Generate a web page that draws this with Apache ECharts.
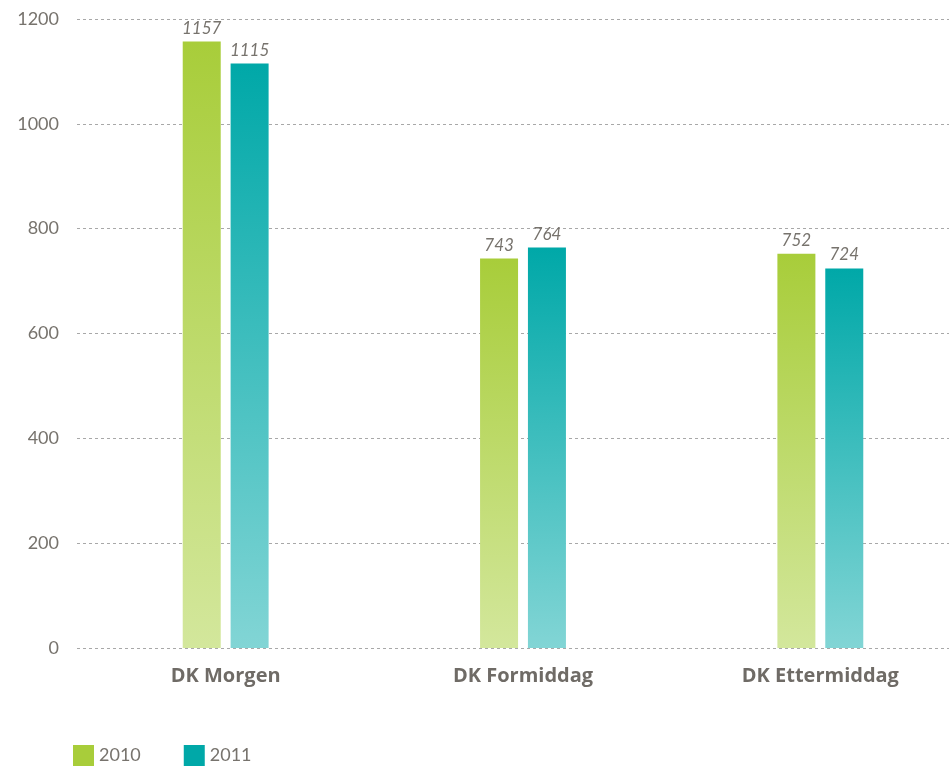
<!DOCTYPE html>
<html>
<head>
<meta charset="utf-8">
<script src="https://cdn.jsdelivr.net/npm/echarts@6/dist/echarts.min.js"></script>
<style>
html,body{margin:0;padding:0;background:#fff;overflow:hidden;}
#c{width:975px;height:766px;}
</style>
</head>
<body>
<div id="c"></div>
<script>
var categories = ['DK Morgen', 'DK Formiddag', 'DK Ettermiddag'];
var seriesNames = ['2010', '2011'];
var values2010 = [1157, 743, 752];
var values2011 = [1115, 764, 724];
var yTicks = [0, 200, 400, 600, 800, 1000, 1200];

var chart = echarts.init(document.getElementById('c'));
var font = 'Lato, "Open Sans", sans-serif';
function grad(top, bottom) {
  return new echarts.graphic.LinearGradient(0, 0, 0, 1, [
    {offset: 0, color: top}, {offset: 1, color: bottom}
  ]);
}
var labelStyle = {
  show: true, position: 'top', distance: 5,
  fontStyle: 'italic', fontSize: 17, color: '#77736d', fontFamily: font
};
chart.setOption({
  animation: false,
  textStyle: {fontFamily: font},
  legend: {
    left: 73, top: 745, padding: 0,
    itemWidth: 21, itemHeight: 21, itemGap: 43,
    icon: 'rect',
    textStyle: {fontSize: 18, color: '#77736d', fontFamily: font},
    data: [
      {name: seriesNames[0], itemStyle: {color: '#a8cd3a'}},
      {name: seriesNames[1], itemStyle: {color: '#00a8a8'}}
    ]
  },
  grid: {left: 77, top: 19, right: 6, height: 629, containLabel: false},
  xAxis: {
    type: 'category', data: categories,
    axisLine: {show: false}, axisTick: {show: false},
    axisLabel: {fontSize: 20, fontWeight: 'bold', color: '#6f6b66', margin: 18, fontFamily: '"Open Sans", Lato, sans-serif'}
  },
  yAxis: {
    type: 'value', min: yTicks[0], max: yTicks[yTicks.length - 1], interval: 200,
    axisLine: {show: false}, axisTick: {show: false},
    axisLabel: {fontSize: 18, color: '#77736d', margin: 18, fontFamily: font,
      formatter: function (v) { return String(v); }},
    splitLine: {lineStyle: {color: '#a8a8a8', type: [3, 3], width: 1}}
  },
  series: [
    {
      name: seriesNames[0], type: 'bar', data: values2010,
      barWidth: 38, barGap: '26%',
      itemStyle: {color: grad('#a8cd3a', '#d3e79c')},
      label: labelStyle
    },
    {
      name: seriesNames[1], type: 'bar', data: values2011,
      barWidth: 38, barGap: '26%',
      itemStyle: {color: grad('#00a8a8', '#82d5d5')},
      label: labelStyle
    }
  ]
});
</script>
</body>
</html>
